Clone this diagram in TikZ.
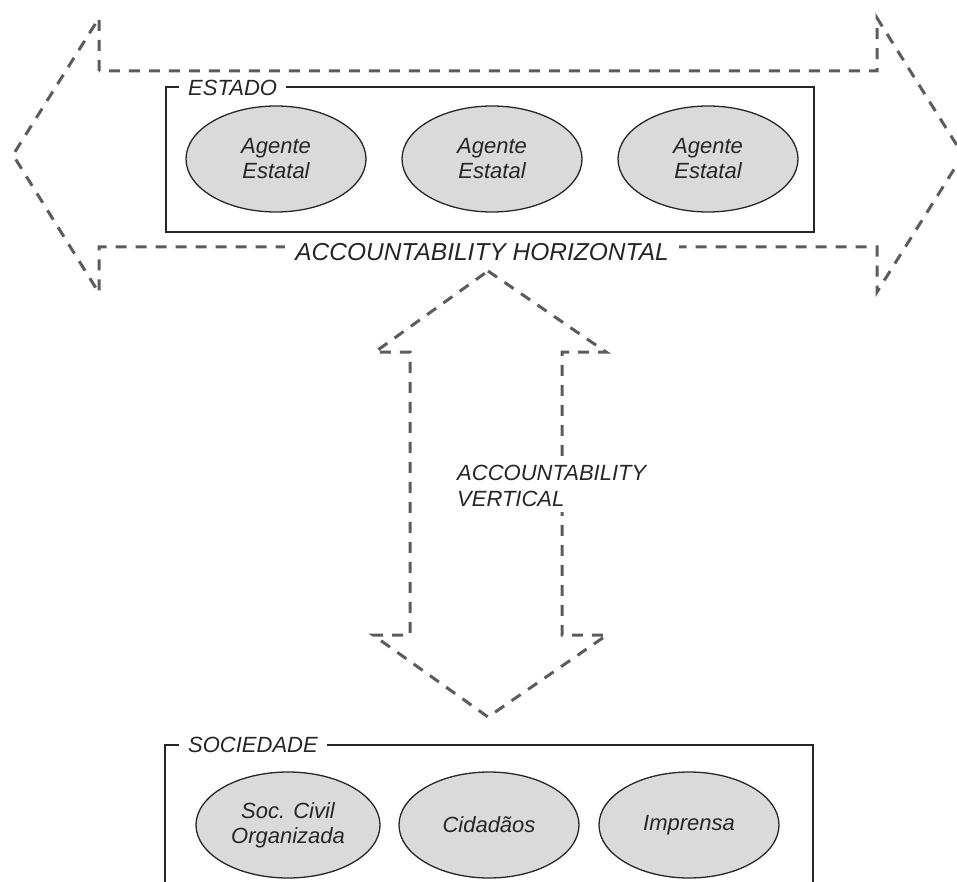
\documentclass[tikz,border=0pt]{standalone}
\usepackage{fontspec}
\setmainfont{Liberation Sans}
\usetikzlibrary{shapes.geometric}
\definecolor{dashgray}{HTML}{5C5C5C}
\definecolor{fillgray}{HTML}{DADADA}
\definecolor{inkgray}{HTML}{262626}

\begin{document}
\begin{tikzpicture}[x=1pt,y=-1pt,
  agente/.style={ellipse,draw=inkgray,line width=1.3pt,fill=fillgray,minimum width=180pt,minimum height=106pt,inner sep=0pt,align=center,font=\fontsize{22}{25}\selectfont\itshape,text=inkgray},
  setbox/.style={draw=inkgray,line width=1.4pt},
  boxlabel/.style={fill=white,anchor=west,inner xsep=9pt,inner ysep=1pt,font=\fontsize{22}{25}\selectfont\itshape,text=inkgray},
  bigarrow/.style={draw=dashgray,line width=3pt,dash pattern=on 11pt off 9pt},
  acclabel/.style={font=\fontsize{22}{26}\selectfont\itshape,text=inkgray}]

\useasboundingbox (0,0) rectangle (957,882);
\clip (0,0) rectangle (957,882);

% horizontal double arrow
\draw[bigarrow] (99,71) -- (99,18) -- (13,155) -- (99,293) -- (99,247) -- (877,247) -- (877,292) -- (963,155) -- (877,18) -- (877,71) -- cycle;

% Estado
\draw[setbox] (166,87) rectangle (814,232);
\node[boxlabel] (estado) at (179,88) {ESTADO};
\node[agente] (ag1) at (276,159) {Agente\\Estatal};
\node[agente] (ag2) at (492,159) {Agente\\Estatal};
\node[agente] (ag3) at (708,159) {Agente\\Estatal};

\node[acclabel,font=\fontsize{24.5}{28}\selectfont\itshape,fill=white,inner xsep=10pt,inner ysep=2pt] (horiz) at (482,252) {ACCOUNTABILITY HORIZONTAL};

% vertical double arrow
\draw[bigarrow] (488,271) -- (606,352) -- (562,352) -- (562,635) -- (607,635) -- (488,717) -- (373,635) -- (410,635) -- (410,352) -- (375,352) -- cycle;
\node[acclabel,anchor=north west,align=left,fill=white,inner sep=5pt] (vert) at (452,460) {ACCOUNTABILITY\\VERTICAL};

% Sociedade
\draw[setbox] (165,890) -- (165,745) -- (813,745) -- (813,890);
\node[boxlabel] (soc) at (179,745) {SOCIEDADE};
\node[agente,minimum width=184pt] (civil) at (288,825) {Soc. Civil\\Organizada};
\node[agente] (cid) at (489,825) {Cidadãos};
\node[agente] (imp) at (689,825) {Imprensa};

\end{tikzpicture}
\end{document}
